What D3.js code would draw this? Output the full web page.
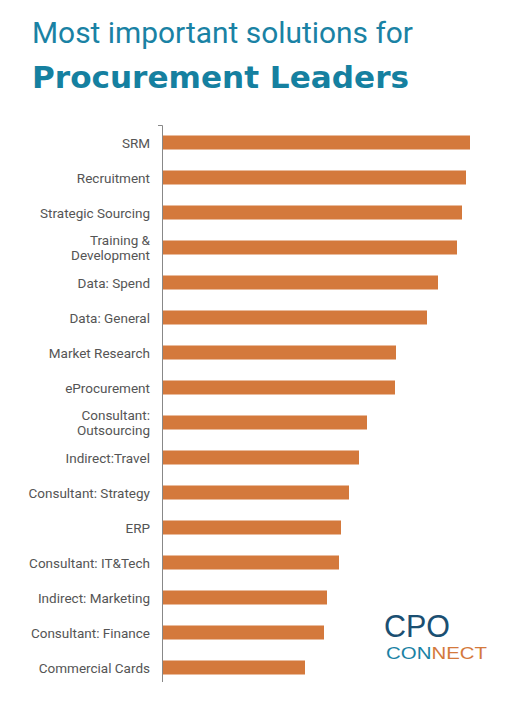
<!DOCTYPE html><html><head><meta charset="utf-8"><script src="https://cdn.jsdelivr.net/npm/d3@7"></script>
<style>body{margin:0;background:#fff}</style></head><body><svg id="c" width="524" height="720"></svg><script>
const categories=["SRM","Recruitment","Strategic Sourcing","Training &\nDevelopment","Data: Spend","Data: General","Market Research","eProcurement","Consultant:\nOutsourcing","Indirect:Travel","Consultant: Strategy","ERP","Consultant: IT&Tech","Indirect: Marketing","Consultant: Finance","Commercial Cards"];
const values=[307,303,299,294,275,264,233,232,204,196,186,178,176,164,161,142];
const svg=d3.select("#c");
svg.append("text").attr("x",32).attr("y",43).attr("font-family","Roboto, sans-serif").attr("font-size",30).attr("fill","#1a82a4").attr("textLength",381).attr("lengthAdjust","spacingAndGlyphs").text("Most important solutions for");
svg.append("text").attr("x",32).attr("y",88).attr("font-family","DejaVu Sans, sans-serif").attr("font-weight","bold").attr("font-size",30).attr("fill","#1580a0").attr("textLength",377).attr("lengthAdjust","spacingAndGlyphs").text("Procurement Leaders");
const x=d3.scaleLinear().domain([0,310]).range([163,473]);
const y=d3.scaleBand().domain(categories).range([125,685]).paddingInner(0.6).paddingOuter(0.3);
svg.selectAll("rect").data(values).join("rect").attr("x",x(0)).attr("y",(d,i)=>y(categories[i])).attr("height",y.bandwidth()).attr("width",d=>x(d)-x(0)).attr("fill","#d4793c");
svg.append("path").attr("d","M158,125.5H162.5V682").attr("stroke","#888").attr("fill","none");
categories.forEach(c=>{const lines=c.split("\n");const cy=y(c)+y.bandwidth()/2;
 const t=svg.append("text").attr("text-anchor","end").attr("font-family","Roboto, sans-serif").attr("font-size",13.5).attr("fill","#555");
 lines.forEach((l,j)=>t.append("tspan").attr("x",150).attr("y",cy+5+(j-(lines.length-1)/2)*15).text(l));});
svg.append("text").attr("x",384).attr("y",637).attr("font-family","Liberation Sans, sans-serif").attr("font-size",31).attr("fill","#1b4f72").attr("textLength",66).attr("lengthAdjust","spacingAndGlyphs").text("CPO");
const t2=svg.append("text").attr("x",386).attr("y",659).attr("font-family","Liberation Sans, sans-serif").attr("font-size",17).attr("textLength",101).attr("lengthAdjust","spacingAndGlyphs");
t2.append("tspan").attr("fill","#1a82a4").text("CON");t2.append("tspan").attr("fill","#d4793c").text("NECT");
</script></body></html>
